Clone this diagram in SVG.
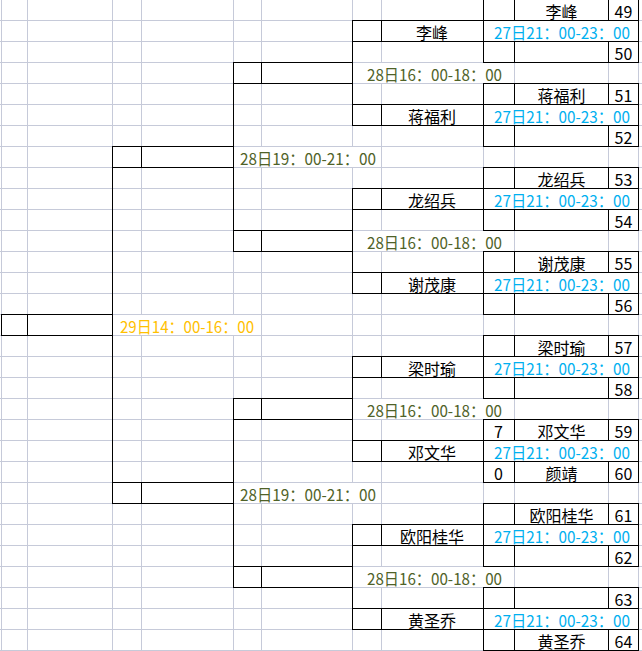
<svg xmlns="http://www.w3.org/2000/svg" xmlns:xlink="http://www.w3.org/1999/xlink" width="642" height="651" viewBox="0 0 642 651">
<style>
.g{stroke:#C6CAD9;stroke-width:1;fill:none}
.b{stroke:#000;stroke-width:1;fill:none}
.m{fill:#fff}
.t{font-family:"Noto Sans CJK SC","Noto Sans",sans-serif;font-size:16px;fill:#000}
.c{text-anchor:middle}
.blue{fill:#00B0F0}
.green{fill:#4F6228}
.orange{fill:#FFC000}
</style>
<defs>
<g id="frame1">
<rect class="m" x="484" y="21" width="154" height="20"/>
<path class="b" d="M483 -0.5H639M352 20.5H639M352 41.5H639M483 62.5H639M483.5 -1V63M638.5 -1V63M514.5 -1V21M608.5 -1V21M514.5 41V63M608.5 41V63M381.5 20V42M352.5 20V42"/>
</g>
<g id="frame2">
<rect class="m" x="353" y="63" width="161" height="20"/>
<path class="b" d="M233 62.5H353M233 83.5H353M261.5 62V84M233.5 62V84M352.5 62V84"/>
</g>
<g id="frame3">
<rect class="m" x="234" y="147" width="147" height="20"/>
<path class="b" d="M112 146.5H234M112 167.5H234M141.5 146V168M112.5 146V168M233.5 146V168"/>
</g>
</defs>
<rect width="642" height="651" fill="#fff"/>
<g id="grid">
<path class="g" d="M0 20.5H642M0 41.5H642M0 62.5H642M0 83.5H642M0 104.5H642M0 125.5H642M0 146.5H642M0 167.5H642M0 188.5H642M0 209.5H642M0 230.5H642M0 251.5H642M0 272.5H642M0 293.5H642M0 314.5H642M0 335.5H642M0 356.5H642M0 377.5H642M0 398.5H642M0 419.5H642M0 440.5H642M0 461.5H642M0 482.5H642M0 503.5H642M0 524.5H642M0 545.5H642M0 566.5H642M0 587.5H642M0 608.5H642M0 629.5H642M0 650.5H642"/>
<path class="g" d="M1.5 0V651M27.5 0V651M112.5 0V651M141.5 0V651M233.5 0V651M261.5 0V651M352.5 0V651M381.5 0V651M483.5 0V651M514.5 0V651M608.5 0V651M638.5 0V651"/>
</g>
<g id="connectors">
<path class="b" d="M352.5 20V126M352.5 188V294M352.5 356V462M352.5 524V630M233.5 62V252M233.5 398V588M112.5 146V504"/>
</g>
<g id="match-49-50">
<use xlink:href="#frame1"/>
<text class="t c" x="561.5" y="17.5">李峰</text>
<text class="t c" x="623.5" y="17.5">49</text>
<text class="t c" x="432" y="38.5">李峰</text>
<text class="t blue" x="494" y="38.5" textLength="136" lengthAdjust="spacingAndGlyphs">27日21：00-23：00</text>
<text class="t c" x="623.5" y="59.5">50</text>
</g>
<g id="match-51-52" transform="translate(0,84)">
<use xlink:href="#frame1"/>
<text class="t c" x="561.5" y="17.5">蒋福利</text>
<text class="t c" x="623.5" y="17.5">51</text>
<text class="t c" x="432" y="38.5">蒋福利</text>
<text class="t blue" x="494" y="38.5" textLength="136" lengthAdjust="spacingAndGlyphs">27日21：00-23：00</text>
<text class="t c" x="623.5" y="59.5">52</text>
</g>
<g id="match-53-54" transform="translate(0,168)">
<use xlink:href="#frame1"/>
<text class="t c" x="561.5" y="17.5">龙绍兵</text>
<text class="t c" x="623.5" y="17.5">53</text>
<text class="t c" x="432" y="38.5">龙绍兵</text>
<text class="t blue" x="494" y="38.5" textLength="136" lengthAdjust="spacingAndGlyphs">27日21：00-23：00</text>
<text class="t c" x="623.5" y="59.5">54</text>
</g>
<g id="match-55-56" transform="translate(0,252)">
<use xlink:href="#frame1"/>
<text class="t c" x="561.5" y="17.5">谢茂康</text>
<text class="t c" x="623.5" y="17.5">55</text>
<text class="t c" x="432" y="38.5">谢茂康</text>
<text class="t blue" x="494" y="38.5" textLength="136" lengthAdjust="spacingAndGlyphs">27日21：00-23：00</text>
<text class="t c" x="623.5" y="59.5">56</text>
</g>
<g id="match-57-58" transform="translate(0,336)">
<use xlink:href="#frame1"/>
<text class="t c" x="561.5" y="17.5">梁时瑜</text>
<text class="t c" x="623.5" y="17.5">57</text>
<text class="t c" x="432" y="38.5">梁时瑜</text>
<text class="t blue" x="494" y="38.5" textLength="136" lengthAdjust="spacingAndGlyphs">27日21：00-23：00</text>
<text class="t c" x="623.5" y="59.5">58</text>
</g>
<g id="match-59-60" transform="translate(0,420)">
<use xlink:href="#frame1"/>
<text class="t c" x="498.5" y="17.5">7</text>
<text class="t c" x="561.5" y="17.5">邓文华</text>
<text class="t c" x="623.5" y="17.5">59</text>
<text class="t c" x="432" y="38.5">邓文华</text>
<text class="t blue" x="494" y="38.5" textLength="136" lengthAdjust="spacingAndGlyphs">27日21：00-23：00</text>
<text class="t c" x="498.5" y="59.5">0</text>
<text class="t c" x="561.5" y="59.5">颜靖</text>
<text class="t c" x="623.5" y="59.5">60</text>
</g>
<g id="match-61-62" transform="translate(0,504)">
<use xlink:href="#frame1"/>
<text class="t c" x="561.5" y="17.5">欧阳桂华</text>
<text class="t c" x="623.5" y="17.5">61</text>
<text class="t c" x="432" y="38.5">欧阳桂华</text>
<text class="t blue" x="494" y="38.5" textLength="136" lengthAdjust="spacingAndGlyphs">27日21：00-23：00</text>
<text class="t c" x="623.5" y="59.5">62</text>
</g>
<g id="match-63-64" transform="translate(0,588)">
<use xlink:href="#frame1"/>
<text class="t c" x="623.5" y="17.5">63</text>
<text class="t c" x="432" y="38.5">黄圣乔</text>
<text class="t blue" x="494" y="38.5" textLength="136" lengthAdjust="spacingAndGlyphs">27日21：00-23：00</text>
<text class="t c" x="561.5" y="59.5">黄圣乔</text>
<text class="t c" x="623.5" y="59.5">64</text>
</g>
<g id="round2-a">
<use xlink:href="#frame2"/>
<text class="t green" x="367" y="80.5" textLength="135" lengthAdjust="spacingAndGlyphs">28日16：00-18：00</text>
</g>
<g id="round2-b" transform="translate(0,168)">
<use xlink:href="#frame2"/>
<text class="t green" x="367" y="80.5" textLength="135" lengthAdjust="spacingAndGlyphs">28日16：00-18：00</text>
</g>
<g id="round2-c" transform="translate(0,336)">
<use xlink:href="#frame2"/>
<text class="t green" x="367" y="80.5" textLength="135" lengthAdjust="spacingAndGlyphs">28日16：00-18：00</text>
</g>
<g id="round2-d" transform="translate(0,504)">
<use xlink:href="#frame2"/>
<text class="t green" x="367" y="80.5" textLength="135" lengthAdjust="spacingAndGlyphs">28日16：00-18：00</text>
</g>
<g id="semi-a">
<use xlink:href="#frame3"/>
<text class="t green" x="240" y="164.5" textLength="136" lengthAdjust="spacingAndGlyphs">28日19：00-21：00</text>
</g>
<g id="semi-b" transform="translate(0,336)">
<use xlink:href="#frame3"/>
<text class="t green" x="240" y="164.5" textLength="136" lengthAdjust="spacingAndGlyphs">28日19：00-21：00</text>
</g>
<g id="final">
<rect class="m" x="113" y="315" width="140" height="20"/>
<path class="b" d="M1 314.5H113M1 335.5H113M1.5 314V336M27.5 314V336M112.5 314V336"/>
<text class="t orange" x="120" y="332.5" textLength="134" lengthAdjust="spacingAndGlyphs">29日14：00-16：00</text>
</g>
</svg>
